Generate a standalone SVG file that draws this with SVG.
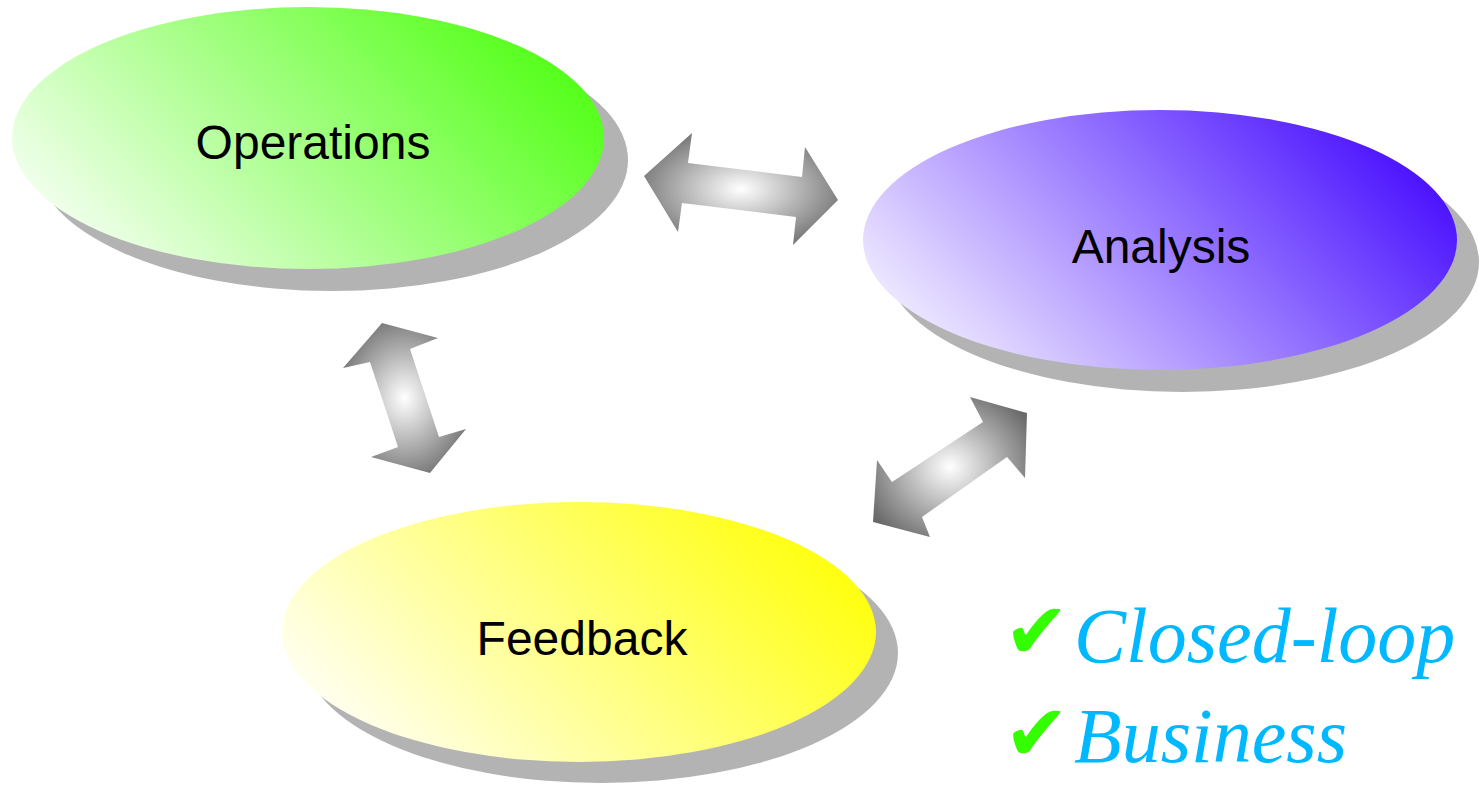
<svg xmlns="http://www.w3.org/2000/svg" width="1479" height="785" viewBox="0 0 1479 785">
<defs>
<linearGradient id="gOps" gradientUnits="userSpaceOnUse" x1="146" y1="300" x2="470" y2="-24"><stop offset="0" stop-color="#f0ffea"/><stop offset="1" stop-color="#55ff1a"/></linearGradient>
<linearGradient id="gAna" gradientUnits="userSpaceOnUse" x1="998" y1="402" x2="1322" y2="78"><stop offset="0" stop-color="#ece6ff"/><stop offset="1" stop-color="#4c14ff"/></linearGradient>
<linearGradient id="gFb" gradientUnits="userSpaceOnUse" x1="417" y1="794" x2="741" y2="470"><stop offset="0" stop-color="#ffffee"/><stop offset="1" stop-color="#ffff10"/></linearGradient>
<radialGradient id="gArr" cx="0.5" cy="0.5" r="0.6"><stop offset="0" stop-color="#ffffff"/><stop offset="1" stop-color="#6a6a6a"/></radialGradient>
</defs>
<style>
.shadow{fill:#b3b3b3}
.lbl{font-family:"Liberation Sans",Arial,sans-serif;font-size:48px;fill:#000;text-anchor:middle}
.arrow{fill:url(#gArr)}
.chk{font-family:"DejaVu Sans",sans-serif;font-size:78px;fill:#33ff00}
.bul{font-family:"Liberation Serif","Times New Roman",serif;font-style:italic;font-size:78px;fill:#00b8ff}
</style>
<rect width="1479" height="785" fill="#fff"/>
<g id="operations">
<ellipse class="shadow" cx="332" cy="160" rx="296" ry="131"/>
<ellipse cx="308" cy="138" rx="296" ry="131" fill="url(#gOps)"/>
<text class="lbl" x="313" y="159">Operations</text>
</g>
<g id="analysis">
<ellipse class="shadow" cx="1182" cy="262" rx="297" ry="130"/>
<ellipse cx="1160" cy="240" rx="297" ry="130" fill="url(#gAna)"/>
<text class="lbl" x="1161" y="263">Analysis</text>
</g>
<g id="feedback">
<ellipse class="shadow" cx="601" cy="653" rx="297" ry="130"/>
<ellipse cx="579" cy="632" rx="297" ry="130" fill="url(#gFb)"/>
<text class="lbl" x="582" y="655">Feedback</text>
</g>
<g id="connectors">
<polygon class="arrow" points="644,176 692,133 688,163 802,177 805,147 838,200 793,245 796,217 682,203 678,232"/>
<polygon class="arrow" points="382,323 438,338 410,349 439,437 466,429 430,473 371,457 398,447 370,362 343,368"/>
<polygon class="arrow" points="970,397 1027,413 1025,478 1007,457 922,517 930,537 873,522 877,460 892,482 983,422"/>
</g>
<g id="notes">
<text class="chk" x="1004" y="658">✔</text>
<text class="bul" x="1074" y="662">Closed-loop</text>
<text class="chk" x="1004" y="760">✔</text>
<text class="bul" x="1074" y="762">Business</text>
</g>
</svg>
